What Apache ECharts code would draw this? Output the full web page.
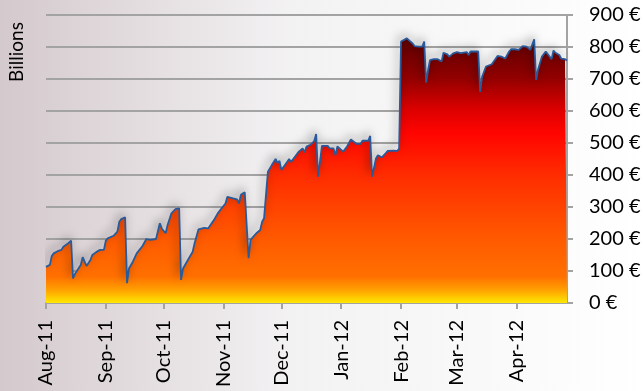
<!DOCTYPE html>
<html>
<head>
<meta charset="utf-8">
<script src="https://cdn.jsdelivr.net/npm/echarts@6/dist/echarts.min.js"></script>
<style>
  html, body { margin: 0; padding: 0; }
  #chart { width: 644px; height: 391px; }
</style>
</head>
<body>
<div id="chart"></div>
<script>
const dates = [
  '2011-08-01','2011-08-03','2011-08-04','2011-08-05','2011-08-07','2011-08-08','2011-08-09','2011-08-10','2011-08-12','2011-08-14','2011-08-15','2011-08-16','2011-08-19','2011-08-20','2011-08-22','2011-08-24','2011-08-25','2011-08-27','2011-08-29','2011-08-30','2011-08-31',
  '2011-09-01','2011-09-02','2011-09-05','2011-09-07','2011-09-08','2011-09-09','2011-09-11','2011-09-12','2011-09-13','2011-09-15','2011-09-17','2011-09-20','2011-09-22','2011-09-24','2011-09-27','2011-09-29','2011-09-30',
  '2011-10-02','2011-10-03','2011-10-05','2011-10-07','2011-10-09','2011-10-10','2011-10-11','2011-10-13','2011-10-16','2011-10-17','2011-10-19','2011-10-22','2011-10-24','2011-10-25','2011-10-27','2011-10-29','2011-10-31',
  '2011-11-02','2011-11-03','2011-11-06','2011-11-08','2011-11-09','2011-11-10','2011-11-12','2011-11-13','2011-11-14','2011-11-15','2011-11-16','2011-11-18','2011-11-20','2011-11-21','2011-11-22','2011-11-23','2011-11-24','2011-11-26','2011-11-28','2011-11-29','2011-11-30',
  '2011-12-01','2011-12-03','2011-12-05','2011-12-06','2011-12-08','2011-12-10','2011-12-12','2011-12-13','2011-12-14','2011-12-16','2011-12-18','2011-12-19','2011-12-20','2011-12-22','2011-12-25','2011-12-26','2011-12-28','2011-12-29','2011-12-30','2011-12-31',
  '2012-01-02','2012-01-04','2012-01-06','2012-01-07','2012-01-09','2012-01-11','2012-01-12','2012-01-15','2012-01-16','2012-01-17','2012-01-19','2012-01-20','2012-01-22','2012-01-24','2012-01-25','2012-01-28','2012-01-30','2012-01-31',
  '2012-02-01','2012-02-02','2012-02-04','2012-02-05','2012-02-07','2012-02-08','2012-02-10','2012-02-12','2012-02-13','2012-02-14','2012-02-15','2012-02-16','2012-02-18','2012-02-20','2012-02-21','2012-02-22','2012-02-23','2012-02-25','2012-02-26','2012-02-28',
  '2012-03-01','2012-03-03','2012-03-04','2012-03-06','2012-03-07','2012-03-08','2012-03-10','2012-03-12','2012-03-13','2012-03-14','2012-03-16','2012-03-17','2012-03-19','2012-03-20','2012-03-21','2012-03-22','2012-03-24','2012-03-26','2012-03-28','2012-03-29','2012-03-31',
  '2012-04-02','2012-04-04','2012-04-05','2012-04-06','2012-04-08','2012-04-09','2012-04-10','2012-04-11','2012-04-12','2012-04-14','2012-04-16','2012-04-17','2012-04-19','2012-04-20','2012-04-21','2012-04-23','2012-04-24','2012-04-26','2012-04-27'
]

const values = [
  113,119,147,155,162,168,166,176,184,195,77,91,119,143,116,134,150,159,166,171,166,
  195,202,210,223,254,262,268,62,108,129,155,178,200,197,200,249,233,
  218,244,280,293,296,72,108,129,160,187,230,235,233,237,259,280,296,
  311,332,327,324,311,338,346,343,140,197,197,218,228,254,265,338,410,431,450,437,444,
  416,433,450,441,457,473,483,471,489,494,506,528,395,491,491,483,483,462,489,483,
  473,489,511,507,497,497,507,507,522,395,452,462,455,468,475,476,475,483,
  817,822,827,824,811,803,801,801,817,689,728,759,762,762,768,755,782,777,770,780,
  784,781,784,784,775,786,786,786,660,707,739,744,746,755,752,772,770,764,786,793,793,
  791,803,806,801,791,786,824,697,730,770,786,786,762,789,782,775,764,762,758
]

const monthNames = ['Jan','Feb','Mar','Apr','May','Jun','Jul','Aug','Sep','Oct','Nov','Dec']
const yLabelSuffix = ' €'
const axisTitle = 'Billions'

const fontFamily = 'Lato'
const gridGray = '#a3a3a3'

const chart = echarts.init(document.getElementById('chart'))

chart.setOption({
  animation: false,
  backgroundColor: new echarts.graphic.LinearGradient(0, 0, 1, 0, [
    { offset: 0, color: '#d4c9cd' },
    { offset: 0.45, color: '#f3f2f3' },
    { offset: 1, color: '#ffffff' }
  ]),
  textStyle: { fontFamily },
  graphic: [{
    type: 'text',
    x: 17,
    y: 52,
    rotation: Math.PI / 2,
    style: {
      text: axisTitle,
      font: `19px ${fontFamily}`,
      fill: '#000',
      align: 'center',
      verticalAlign: 'middle'
    }
  }],
  grid: {
    left: 46,
    right: 77,
    top: 15,
    bottom: 88
  },
  xAxis: {
    type: 'time',
    min: '2011-08-01',
    max: '2012-04-27',
    splitNumber: 9,
    minInterval: 28 * 86400000,
    axisLine: { lineStyle: { color: gridGray, width: 2 } },
    axisTick: { show: true, length: 6, lineStyle: { color: gridGray, width: 2 } },
    splitLine: { show: false },
    axisLabel: {
      rotate: 90,
      margin: 17,
      color: '#000',
      fontSize: 20,
      fontFamily,
      showMinLabel: true,
      formatter: (val) => {
        const d = new Date(val)
        return monthNames[d.getMonth()] + '-' + String(d.getFullYear()).slice(2)
      }
    }
  },
  yAxis: {
    type: 'value',
    position: 'right',
    min: 0,
    max: 900,
    interval: 100,
    axisLine: { show: true, lineStyle: { color: gridGray, width: 2 } },
    axisTick: { show: true, length: 6, lineStyle: { color: gridGray, width: 2 } },
    splitLine: { lineStyle: { color: gridGray, width: 2 } },
    axisLabel: {
      margin: 22,
      color: '#000',
      fontSize: 20,
      fontFamily,
      formatter: (v) => v + yLabelSuffix
    }
  },
  series: [{
    type: 'line',
    data: dates.map((d, i) => [d, values[i]]),
    showSymbol: false,
    lineStyle: {
      color: '#2a5a9a',
      width: 1.8,
      shadowBlur: 10,
      shadowColor: 'rgba(0,0,0,0.55)',
      shadowOffsetX: -2,
      shadowOffsetY: -3
    },
    areaStyle: {
      opacity: 1,
      color: new echarts.graphic.LinearGradient(0, 0, 0, 1, [
        { offset: 0, color: '#5c0000' },
        { offset: 0.15, color: '#920000' },
        { offset: 0.27, color: '#dd0000' },
        { offset: 0.36, color: '#ff0500' },
        { offset: 0.52, color: '#ff2d00' },
        { offset: 0.76, color: '#ff5a00' },
        { offset: 0.9, color: '#ff7000' },
        { offset: 0.95, color: '#ffa000' },
        { offset: 1, color: '#ffe800' }
      ])
    }
  }]
})
</script>
</body>
</html>
